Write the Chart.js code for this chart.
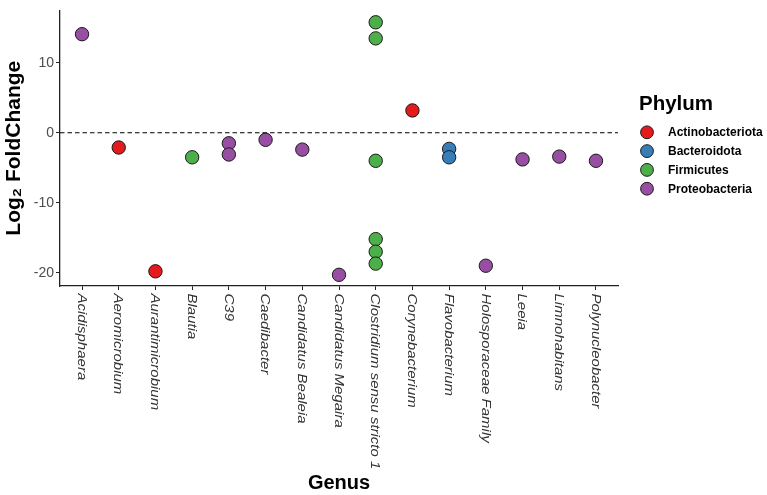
<!DOCTYPE html>
<html>
<head>
<meta charset="utf-8">
<script src="https://cdn.jsdelivr.net/npm/chart.js@4/dist/chart.umd.min.js"></script>
<style>
  html, body { margin: 0; padding: 0; background: #ffffff; }
  #wrap { position: relative; width: 767px; height: 495px; }
</style>
</head>
<body>
<div id="wrap"><canvas id="c" width="767" height="495"></canvas></div>
<script>
// ---- data ----
const genera = ['Acidisphaera', 'Aeromicrobium', 'Aurantimicrobium', 'Blautia', 'C39', 'Caedibacter',
  'Candidatus Bealeia', 'Candidatus Megaira', 'Clostridium sensu stricto 1', 'Corynebacterium',
  'Flavobacterium', 'Holosporaceae Family', 'Leeia', 'Limnohabitans', 'Polynucleobacter'];
const phyla = ['Actinobacteriota', 'Bacteroidota', 'Firmicutes', 'Proteobacteria'];
const phylumColors = ['#e41a1c', '#377eb8', '#4daf4a', '#984ea3'];

const actinoGenus = ['Aeromicrobium', 'Aurantimicrobium', 'Corynebacterium'];
const actinoLFC = [-2.1, -19.8, 3.2];
const bacteroGenus = ['Flavobacterium', 'Flavobacterium'];
const bacteroLFC = [-2.3, -3.5];
const firmiGenus = ['Blautia', 'Clostridium sensu stricto 1', 'Clostridium sensu stricto 1',
  'Clostridium sensu stricto 1', 'Clostridium sensu stricto 1', 'Clostridium sensu stricto 1',
  'Clostridium sensu stricto 1'];
const firmiLFC = [-3.5, 15.8, 13.5, -4.0, -15.2, -17.0, -18.7];
const proteoGenus = ['Acidisphaera', 'C39', 'C39', 'Caedibacter', 'Candidatus Bealeia',
  'Candidatus Megaira', 'Holosporaceae Family', 'Leeia', 'Limnohabitans', 'Polynucleobacter'];
const proteoLFC = [14.1, -1.5, -3.1, -1.0, -2.4, -20.3, -19.0, -3.8, -3.4, -4.0];

const yTicks = [-20, -10, 0, 10];
const xTitle = 'Genus';
const yTitle = 'Log\u2082 FoldChange';
const legendTitle = 'Phylum';

// ---- build datasets ----
const groupGenus = [actinoGenus, bacteroGenus, firmiGenus, proteoGenus];
const groupLFC = [actinoLFC, bacteroLFC, firmiLFC, proteoLFC];
const datasets = phyla.map((p, k) => ({
  label: p,
  data: groupGenus[k].map((g, i) => ({ x: genera.indexOf(g), y: groupLFC[k][i] })),
  backgroundColor: phylumColors[k],
  borderColor: '#1a1a1a',
  borderWidth: 1,
  pointRadius: 6.7,
  pointHoverRadius: 6.7
}));

const FONT = '"Liberation Sans", Arial, Helvetica, sans-serif';

const decorPlugin = {
  id: 'decor',
  beforeDatasetsDraw(chart) {
    const { ctx, chartArea, scales } = chart;
    const y0 = scales.y.getPixelForValue(0);
    ctx.save();
    ctx.strokeStyle = '#000';
    ctx.lineWidth = 1.1;
    ctx.setLineDash([4.5, 3]);
    ctx.beginPath();
    ctx.moveTo(chartArea.left, y0);
    ctx.lineTo(chartArea.right, y0);
    ctx.stroke();
    ctx.restore();
  },
  afterDraw(chart) {
    const { ctx, chartArea, scales } = chart;
    // x tick labels rotated clockwise (reading top to bottom)
    ctx.save();
    ctx.fillStyle = '#333333';
    ctx.font = 'italic 15px ' + FONT;
    ctx.textAlign = 'left';
    ctx.textBaseline = 'middle';
    genera.forEach((g, i) => {
      const x = scales.x.getPixelForValue(i) - 1;
      const y = chartArea.bottom + 7.5;
      ctx.save();
      ctx.translate(x, y);
      ctx.rotate(Math.PI / 2);
      ctx.scale(1, 0.8);
      ctx.fillText(g, 0, 0);
      ctx.restore();
    });
    ctx.restore();

    // legend
    ctx.save();
    ctx.fillStyle = '#000';
    ctx.font = 'bold 20.5px ' + FONT;
    ctx.textAlign = 'left';
    ctx.textBaseline = 'alphabetic';
    ctx.fillText(legendTitle, 639, 110);
    ctx.font = 'bold 12px ' + FONT;
    ctx.textBaseline = 'middle';
    chart.data.datasets.forEach((ds, k) => {
      const cy = 132.3 + k * 18.8;
      ctx.beginPath();
      ctx.arc(647, cy, 6.4, 0, Math.PI * 2);
      ctx.fillStyle = ds.backgroundColor;
      ctx.fill();
      ctx.lineWidth = 1;
      ctx.strokeStyle = '#1a1a1a';
      ctx.stroke();
      ctx.fillStyle = '#000';
      ctx.fillText(ds.label, 668, cy + 0.5);
    });
    ctx.restore();
  }
};

new Chart(document.getElementById('c'), {
  type: 'scatter',
  data: { datasets },
  options: {
    responsive: false,
    animation: false,
    devicePixelRatio: 1,
    layout: { padding: { top: 4, right: 149, left: 0, bottom: 0 } },
    plugins: {
      legend: { display: false },
      tooltip: { enabled: false },
      title: { display: false }
    },
    scales: {
      x: {
        type: 'linear',
        min: -0.6,
        max: 14.6,
        afterBuildTicks: (s) => { s.ticks = genera.map((g, i) => ({ value: i })); },
        afterFit: (s) => { s.height = 209; },
        ticks: { display: false },
        grid: { display: true, drawOnChartArea: false, drawTicks: true, tickLength: 4, color: '#222', lineWidth: 1 },
        border: { display: true, color: '#222', width: 1.3 },
        title: {
          display: true, text: xTitle, color: '#000',
          font: { family: FONT, size: 20, weight: 'bold' },
          padding: { top: 0, bottom: 0 }
        }
      },
      y: {
        type: 'linear',
        min: -21.9,
        max: 17.5,
        afterBuildTicks: (s) => { s.ticks = yTicks.map(v => ({ value: v })); },
        afterFit: (s) => { s.width = 60; },
        ticks: { color: '#4d4d4d', font: { family: FONT, size: 14 }, padding: 2 },
        grid: { display: true, drawOnChartArea: false, drawTicks: true, tickLength: 4, color: '#222', lineWidth: 1 },
        border: { display: true, color: '#222', width: 1.3 },
        title: {
          display: true, text: yTitle, color: '#000',
          font: { family: FONT, size: 21, weight: 'bold' },
          padding: { top: 1.5, bottom: 0 }
        }
      }
    }
  },
  plugins: [decorPlugin]
});
</script>
</body>
</html>
